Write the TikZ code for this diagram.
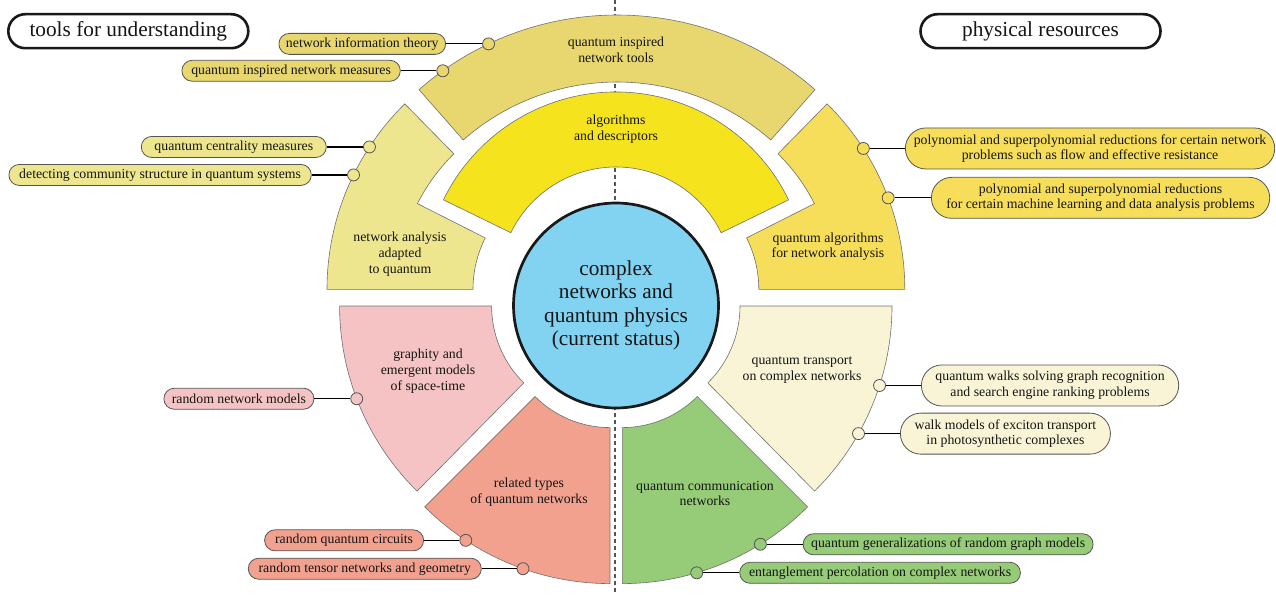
\documentclass[tikz,border=0pt]{standalone}
\usepackage{fontspec}
\setmainfont{Liberation Serif}
\usetikzlibrary{calc}
\definecolor{cTop}{HTML}{E8D66E}
\definecolor{cYel}{HTML}{F5E31E}
\definecolor{cLU}{HTML}{EDE68E}
\definecolor{cRU}{HTML}{F6DD5A}
\definecolor{cPink}{HTML}{F5C3C3}
\definecolor{cRed}{HTML}{F2A18F}
\definecolor{cGreen}{HTML}{96CC77}
\definecolor{cCream}{HTML}{F8F4D5}
\definecolor{cBlue}{HTML}{82D3F1}
\definecolor{edgegray}{HTML}{707070}
\definecolor{pillgray}{HTML}{555555}
\definecolor{textdark}{HTML}{151515}
\definecolor{dashgray}{HTML}{555555}
\newcommand\smallfnt{\fontsize{13.8}{15.7}\selectfont}
\newcommand\bigfnt{\fontsize{21.3}{23.5}\selectfont}
\begin{document}
\begin{tikzpicture}[x=1pt,y=1pt,
  sector/.style={draw=edgegray, line width=0.6pt},
  dot/.style={circle, draw=pillgray, line width=0.8pt, minimum size=12pt, inner sep=0pt},
  pill/.style={draw=pillgray, line width=0.8pt, rounded corners=10.4pt, minimum height=21pt, inner sep=0pt, font=\smallfnt, text=textdark},
  pilltwo/.style={pill, minimum height=41pt, rounded corners=20.4pt, align=center},
  link/.style={draw=black, line width=1.2pt},
  seclabel/.style={font=\smallfnt, align=center, text=textdark},
  headbox/.style={draw=black!90, line width=2.6pt, rounded corners=17pt, minimum width=240pt, minimum height=34pt, font=\bigfnt, inner sep=0pt, text=textdark},
  dashline/.style={draw=dashgray, line width=2pt, dash pattern=on 4pt off 3pt}
]
\useasboundingbox (0,0) rectangle (1276,-594);

% dashed axis
\coordinate (dtop) at (615,0);
\coordinate (dbot) at (615,-594);
\draw[dashline] (dtop) -- (dbot);

% sectors
\filldraw[sector, fill=cTop, shift={(617,-315)}]
  (48.7:233) -- (48.7:300) arc[start angle=48.7, end angle=131.3, radius=300]
  -- (131.3:233) arc[start angle=131.3, end angle=48.7, radius=233] -- cycle;
\filldraw[sector, fill=cYel, shift={(616,-284)}]
  (26:117) -- (26:192) arc[start angle=26, end angle=154, radius=192]
  -- (154:117) arc[start angle=154, end angle=26, radius=117] -- cycle;
\filldraw[sector, fill=cLU, shift={(587,-289.3)}]
  (180:114) -- (180:260) arc[start angle=180, end angle=134.5, radius=260]
  -- (134.5:190) arc[start angle=134.5, end angle=153.2, radius=190]
  -- (153.2:114) arc[start angle=153.2, end angle=180, radius=114] -- cycle;
\filldraw[sector, fill=cRU, shift={(644.8,-289.3)}]
  (0:114) -- (0:260) arc[start angle=0, end angle=45.5, radius=260]
  -- (45.5:190) arc[start angle=45.5, end angle=26.8, radius=190]
  -- (26.8:114) arc[start angle=26.8, end angle=0, radius=114] -- cycle;
\filldraw[sector, fill=cPink, shift={(599.6,-306)}]
  (180:108) -- (180:260) arc[start angle=180, end angle=225.4, radius=260]
  -- (225.4:108) arc[start angle=225.4, end angle=180, radius=108] -- cycle;
\filldraw[sector, fill=cCream, shift={(632,-306)}]
  (0:108) -- (0:260) arc[start angle=0, end angle=-45.4, radius=260]
  -- (-45.4:108) arc[start angle=-45.4, end angle=0, radius=108] -- cycle;
\filldraw[sector, fill=cRed, shift={(610,-321.6)}]
  (270:106) -- (270:262) arc[start angle=270, end angle=225, radius=262]
  -- (225:106) arc[start angle=225, end angle=270, radius=106] -- cycle;
\filldraw[sector, fill=cGreen, shift={(622.3,-321.6)}]
  (270:106) -- (270:262) arc[start angle=270, end angle=315, radius=262]
  -- (315:106) arc[start angle=315, end angle=270, radius=106] -- cycle;

% hub
\node[circle, draw=black!90, line width=2.7pt, fill=cBlue, minimum size=205pt, inner sep=0pt,
      font=\bigfnt, align=center, text=textdark] (hub) at (616,-305.5)
  {complex\\networks and\\quantum physics\\(current status)};

% sector labels
\node[seclabel] (tTop) at (616,-49.5) {quantum inspired\\network tools};
\node[seclabel] (tYel) at (616,-129.5) {algorithms\\and descriptors};
\node[seclabel] (tLU) at (400,-254) {network analysis\\adapted\\to quantum};
\node[seclabel] (tRU) at (828,-246.7) {quantum algorithms\\for network analysis};
\node[seclabel] (tPink) at (428,-371) {graphity and\\emergent models\\of space-time};
\node[seclabel] (tRed) at (529,-492.5) {related types\\of quantum networks};
\node[seclabel] (tGreen) at (705,-493.5) {quantum communication\\networks};
\node[seclabel] (tCream) at (802,-369.8) {quantum transport\\on complex networks};

% header boxes
\node[headbox] (hLeft) at (128.3,-31.2) {tools for understanding};
\node[headbox] (hRight) at (1040.5,-31.2) {physical resources};

% dots
\node[dot, fill=cTop] (d1) at ($(617,-315)+(115.35:300)$) {};
\node[dot, fill=cTop] (d2) at ($(617,-315)+(125.5:300)$) {};
\node[dot, fill=cLU] (d3) at ($(587,-289.3)+(146.8:260)$) {};
\node[dot, fill=cLU] (d4) at ($(587,-289.3)+(153.9:260)$) {};
\node[dot, fill=cPink] (d5) at ($(599.6,-306)+(200.9:260)$) {};
\node[dot, fill=cRed] (d6) at ($(610,-321.6)+(236.6:262)$) {};
\node[dot, fill=cRed] (d7) at ($(610,-321.6)+(250.6:262)$) {};
\node[dot, fill=cRU] (d8) at ($(644.8,-289.3)+(32.8:260)$) {};
\node[dot, fill=cRU] (d9) at ($(644.8,-289.3)+(20.6:260)$) {};
\node[dot, fill=cCream] (d10) at ($(632,-306)+(-17.8:260)$) {};
\node[dot, fill=cCream] (d11) at ($(632,-306)+(-29.4:260)$) {};
\node[dot, fill=cGreen] (d12) at ($(622.3,-321.6)+(301.8:262)$) {};
\node[dot, fill=cGreen] (d13) at ($(622.3,-321.6)+(286.5:262)$) {};

% pills
\node[pill, fill=cTop, minimum width=166.7pt, anchor=east] (p1) at (446,0 |- d1) {network information theory};
\node[pill, fill=cTop, minimum width=218.4pt, anchor=east] (p2) at (400.7,0 |- d2) {quantum inspired network measures};
\node[pill, fill=cLU, minimum width=185pt, anchor=east] (p3) at (326.7,0 |- d3) {quantum centrality measures};
\node[pill, fill=cLU, minimum width=302.4pt, anchor=east] (p4) at (311.7,0 |- d4) {detecting community structure in quantum systems};
\node[pill, fill=cPink, minimum width=150pt, anchor=east] (p5) at (314.3,0 |- d5) {random network models};
\node[pill, fill=cRed, minimum width=159pt, anchor=east] (p6) at (424,0 |- d6) {random quantum circuits};
\node[pill, fill=cRed, minimum width=233pt, anchor=east] (p7) at (481.7,0 |- d7) {random tensor networks and geometry};
\node[pilltwo, fill=cRU, minimum width=369.3pt, anchor=west] (p8) at (905,0 |- d8) {polynomial and superpolynomial reductions for certain network\\problems such as flow and effective resistance};
\node[pilltwo, fill=cRU, minimum width=338.3pt, anchor=west] (p9) at (931,0 |- d9) {polynomial and superpolynomial reductions\\for certain machine learning and data analysis problems};
\node[pilltwo, fill=cCream, minimum width=257.3pt, anchor=west] (p10) at (921,0 |- d10) {quantum walks solving graph recognition\\and search engine ranking problems};
\node[pilltwo, fill=cCream, minimum width=210pt, anchor=west] (p11) at (900,0 |- d11) {walk models of exciton transport\\in photosynthetic complexes};
\node[pill, fill=cGreen, minimum width=290pt, anchor=west] (p12) at (802.7,0 |- d12) {quantum generalizations of random graph models};
\node[pill, fill=cGreen, minimum width=280.7pt, anchor=west] (p13) at (739.3,0 |- d13) {entanglement percolation on complex networks};

% connectors
\foreach \i in {1,...,13} { \draw[link] (d\i) -- (p\i); }
\end{tikzpicture}
\end{document}
